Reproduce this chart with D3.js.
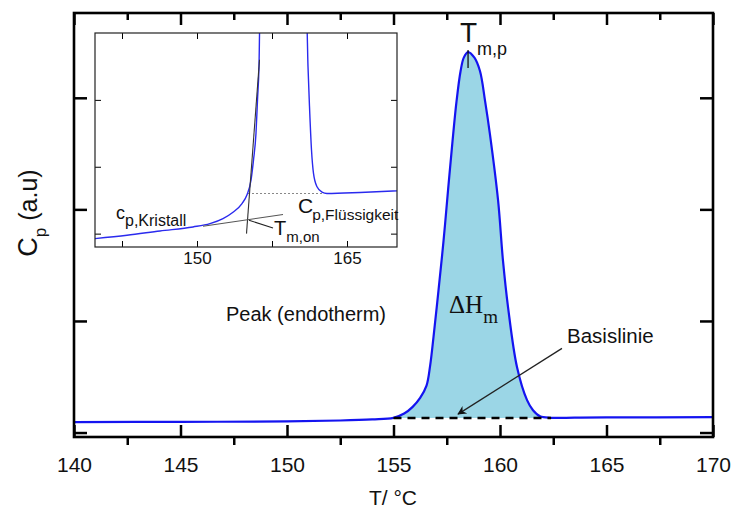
<!DOCTYPE html>
<html>
<head>
<meta charset="utf-8">
<script src="https://cdn.jsdelivr.net/npm/d3@7"></script>
<style>
  body { margin: 0; background: #fff; }
  svg { display: block; font-family: "Liberation Sans", Arial, sans-serif; }
</style>
</head>
<body>
<svg id="chart" width="736" height="509"></svg>
<script>
// Main curve (T in °C, Cp in arbitrary units)
const mainT  = [140, 145, 150, 152.5, 154, 155, 155.5, 155.9, 156.25, 156.55, 156.72, 156.88, 157.11, 157.35, 157.56, 157.77, 157.96, 158.15, 158.3, 158.5, 158.8, 159.06, 159.3, 159.53, 159.91, 160.14, 160.38, 160.8, 161.27, 161.55, 161.88, 162.4, 163.5, 165, 170];
const mainCp = [0.094, 0.096, 0.1, 0.108, 0.118, 0.132, 0.17, 0.23, 0.31, 0.42, 0.6, 0.86, 1.27, 1.72, 2.17, 2.61, 2.97, 3.24, 3.36, 3.41, 3.36, 3.24, 2.97, 2.67, 2.08, 1.54, 1.12, 0.585, 0.29, 0.2, 0.145, 0.132, 0.133, 0.135, 0.138];
const baselineCp = 0.13;
const peakRange = [155, 162.4];

// Inset curve (zoomed view around the onset)
const insetT  = [139.8, 143, 146.3, 149.6, 151.3, 152.6, 153.6, 154.5, 155, 155.4, 155.65, 155.9, 156.05, 156.2, 156.3, 160.95, 161.1, 161.25, 161.45, 161.65, 162.0, 162.5, 163, 166.3, 170];
const insetCp = [0.925, 0.975, 1.04, 1.1, 1.15, 1.225, 1.32, 1.45, 1.58, 1.8, 2.1, 2.5, 3.0, 3.5, 4.3, 4.3, 3.5, 2.9, 2.25, 1.9, 1.7, 1.62, 1.6, 1.615, 1.64];

// Construction lines in the inset [T, Cp]
const onsetTangent   = [[156.25, 3.6], [154.95, 1.0]];
const crystalTangent = [[150.6, 1.11], [158.6, 1.285]];
const onsetPointer   = [[157.6, 1.085], [155.2, 1.2]];
const liquidLevel    = [[155.1, 1.6], [162.6, 1.6]];

// Ticks
const xMajor = [140, 145, 150, 155, 160, 165, 170];
const xMinor = [142.5, 147.5, 152.5, 157.5, 162.5, 167.5];
const yMajor = [0, 1, 2, 3];
const insetXTicks = [142.5, 150, 157.5, 165];
const insetXLabels = [150, 165];
const insetYTicks = [1, 2, 3];

// Basislinie arrow [T, Cp]
const baseArrow = [[162.91, 0.754], [158.03, 0.165]];

const svg = d3.select("#chart");

const x = d3.scaleLinear().domain([140, 170]).range([74, 713]);
const y = d3.scaleLinear().domain([-0.04, 3.76]).range([437, 13]);

const xIn = d3.scaleLinear().domain([139.8, 170]).range([95, 397]);
const yIn = d3.scaleLinear().domain([0.8, 4.0]).range([247, 33]);

const mainData = mainT.map((t, i) => [t, mainCp[i]]);
const insetData = insetT.map((t, i) => [t, insetCp[i]]);
const smooth = d3.curveCatmullRom.alpha(0.5);

svg.append("defs").append("marker")
    .attr("id", "head")
    .attr("viewBox", "0 0 10 10")
    .attr("refX", 9).attr("refY", 5)
    .attr("markerWidth", 11).attr("markerHeight", 9)
    .attr("markerUnits", "userSpaceOnUse")
    .attr("orient", "auto")
  .append("path")
    .attr("d", "M0,0 L10,5 L0,10 L3,5 Z")
    .attr("fill", "#111");

svg.select("defs").append("clipPath").attr("id", "insetClip")
  .append("rect")
    .attr("x", 95).attr("y", 33).attr("width", 302).attr("height", 214);

// peak fill
const peakData = mainData.filter(d => d[0] >= peakRange[0] && d[0] <= peakRange[1]);
svg.append("path")
    .datum(peakData)
    .attr("fill", "#9bd6e6")
    .attr("d", d3.area()
        .x(d => x(d[0]))
        .y0(y(baselineCp))
        .y1(d => y(d[1]))
        .curve(smooth));

// main curve
svg.append("path")
    .datum(mainData)
    .attr("fill", "none")
    .attr("stroke", "#1414f0")
    .attr("stroke-width", 2.2)
    .attr("d", d3.line().x(d => x(d[0])).y(d => y(d[1])).curve(smooth));

// dashed baseline
svg.append("line")
    .attr("x1", x(peakRange[0])).attr("x2", x(peakRange[1]))
    .attr("y1", y(baselineCp)).attr("y2", y(baselineCp))
    .attr("stroke", "#000")
    .attr("stroke-width", 2.5)
    .attr("stroke-dasharray", "8,6");

// arrow to baseline
svg.append("line")
    .attr("x1", x(baseArrow[0][0])).attr("y1", y(baseArrow[0][1]))
    .attr("x2", x(baseArrow[1][0])).attr("y2", y(baseArrow[1][1]))
    .attr("stroke", "#222")
    .attr("stroke-width", 1.3)
    .attr("marker-end", "url(#head)");

// peak marker
const peakIdx = d3.maxIndex(mainCp);
svg.append("line")
    .attr("x1", x(mainT[peakIdx])).attr("x2", x(mainT[peakIdx]))
    .attr("y1", y(mainCp[peakIdx]) - 2).attr("y2", y(mainCp[peakIdx]) + 16)
    .attr("stroke", "#000").attr("stroke-width", 1.2);

// axes of the main frame
function styleAxis(g, w) {
  g.select(".domain").remove();
  g.selectAll(".tick line").attr("stroke", "#000").attr("stroke-width", w);
}

svg.append("g")
    .attr("transform", "translate(0,437)")
    .call(d3.axisBottom(x).tickValues(xMajor).tickSizeInner(-12).tickSizeOuter(0).tickPadding(20))
    .call(g => styleAxis(g, 2.5))
    .call(g => g.selectAll("text").attr("font-size", 21).attr("fill", "#111")
        .attr("font-family", "Liberation Sans, Arial, sans-serif"));

svg.append("g")
    .attr("transform", "translate(0,437)")
    .call(d3.axisBottom(x).tickValues(xMinor).tickSize(8).tickFormat(""))
    .call(g => styleAxis(g, 2.5));

svg.append("g")
    .attr("transform", "translate(0,13)")
    .call(d3.axisTop(x).tickValues(xMajor).tickSize(-12).tickFormat(""))
    .call(g => styleAxis(g, 2.5));

svg.append("g")
    .attr("transform", "translate(0,13)")
    .call(d3.axisTop(x).tickValues(xMinor).tickSize(-7).tickFormat(""))
    .call(g => styleAxis(g, 2.5));

svg.append("g")
    .attr("transform", "translate(74,0)")
    .call(d3.axisLeft(y).tickValues(yMajor).tickSize(-13).tickFormat(""))
    .call(g => styleAxis(g, 2.5));

svg.append("g")
    .attr("transform", "translate(713,0)")
    .call(d3.axisRight(y).tickValues(yMajor).tickSize(-13).tickFormat(""))
    .call(g => styleAxis(g, 2.5));

svg.append("rect")
    .attr("x", 74).attr("y", 13).attr("width", 639).attr("height", 424)
    .attr("fill", "none").attr("stroke", "#000").attr("stroke-width", 2.6);

// inset
const inset = svg.append("g");
inset.append("rect")
    .attr("x", 95).attr("y", 33).attr("width", 302).attr("height", 214)
    .attr("fill", "#fff");

inset.append("path")
    .datum(liquidLevel)
    .attr("fill", "none").attr("stroke", "#888")
    .attr("stroke-width", 1).attr("stroke-dasharray", "2,2")
    .attr("d", d3.line().x(d => xIn(d[0])).y(d => yIn(d[1])));

inset.append("path")
    .datum(insetData)
    .attr("clip-path", "url(#insetClip)")
    .attr("fill", "none").attr("stroke", "#2a2aee").attr("stroke-width", 1.4)
    .attr("d", d3.line().x(d => xIn(d[0])).y(d => yIn(d[1])).curve(d3.curveMonotoneX));

[[onsetTangent, "#333"], [crystalTangent, "#555"], [onsetPointer, "#222"]].forEach(([seg, c]) => {
  inset.append("line")
      .attr("x1", xIn(seg[0][0])).attr("y1", yIn(seg[0][1]))
      .attr("x2", xIn(seg[1][0])).attr("y2", yIn(seg[1][1]))
      .attr("stroke", c).attr("stroke-width", 1.1);
});

inset.append("g")
    .attr("transform", "translate(0,247)")
    .call(d3.axisBottom(xIn).tickValues(insetXTicks).tickSize(-6).tickPadding(5)
        .tickFormat(d => insetXLabels.includes(d) ? d : ""))
    .call(g => styleAxis(g, 1))
    .call(g => g.selectAll("text").attr("font-size", 17).attr("fill", "#111")
        .attr("font-family", "Liberation Sans, Arial, sans-serif"));

inset.append("g")
    .attr("transform", "translate(0,33)")
    .call(d3.axisTop(xIn).tickValues(insetXTicks).tickSize(-6).tickFormat(""))
    .call(g => styleAxis(g, 1));

inset.append("g")
    .attr("transform", "translate(95,0)")
    .call(d3.axisLeft(yIn).tickValues(insetYTicks).tickSize(-6).tickFormat(""))
    .call(g => styleAxis(g, 1));

inset.append("g")
    .attr("transform", "translate(397,0)")
    .call(d3.axisRight(yIn).tickValues(insetYTicks).tickSize(-6).tickFormat(""))
    .call(g => styleAxis(g, 1));

inset.append("rect")
    .attr("x", 95).attr("y", 33).attr("width", 302).attr("height", 214)
    .attr("fill", "none").attr("stroke", "#222").attr("stroke-width", 1.2);

// text with subscript
function subText(px, py, main, sub, size, subSize, subDx, subDy, family) {
  const t = svg.append("text")
      .attr("x", px).attr("y", py)
      .attr("fill", "#111")
      .attr("font-family", family || "Liberation Sans, Arial, sans-serif");
  t.append("tspan").attr("font-size", size).text(main);
  t.append("tspan").attr("font-size", subSize).attr("dx", subDx).attr("dy", subDy).text(sub);
  return t;
}

subText(460, 42, "T", "m,p", 28, 18, 0, 13);
subText(449, 313, "\u0394H", "m", 25, 19, 0, 10, "Liberation Serif, Times New Roman, serif");
subText(116, 219, "c", "p,Kristall", 18, 16, 0, 7);
subText(298, 213, "C", "p,Flüssigkeit", 21, 15.5, -1, 7);
subText(274, 235, "T", "m,on", 20, 15, 0, 7);

svg.append("text")
    .attr("x", 306).attr("y", 321)
    .attr("text-anchor", "middle")
    .attr("font-size", 20).attr("fill", "#111")
    .text("Peak (endotherm)");

svg.append("text")
    .attr("x", 567).attr("y", 343)
    .attr("font-size", 20.5).attr("fill", "#111")
    .text("Basislinie");

svg.append("text")
    .attr("x", 393).attr("y", 505)
    .attr("text-anchor", "middle")
    .attr("font-size", 21).attr("fill", "#111")
    .text("T/ °C");

const yLabel = svg.append("text")
    .attr("transform", "translate(37,213) rotate(-90)")
    .attr("text-anchor", "middle")
    .attr("fill", "#111");
yLabel.append("tspan").attr("font-size", 27).text("C");
yLabel.append("tspan").attr("font-size", 17).attr("dy", 9).text("p");
yLabel.append("tspan").attr("font-size", 25).attr("dy", -9).text(" (a.u)");
</script>
</body>
</html>
